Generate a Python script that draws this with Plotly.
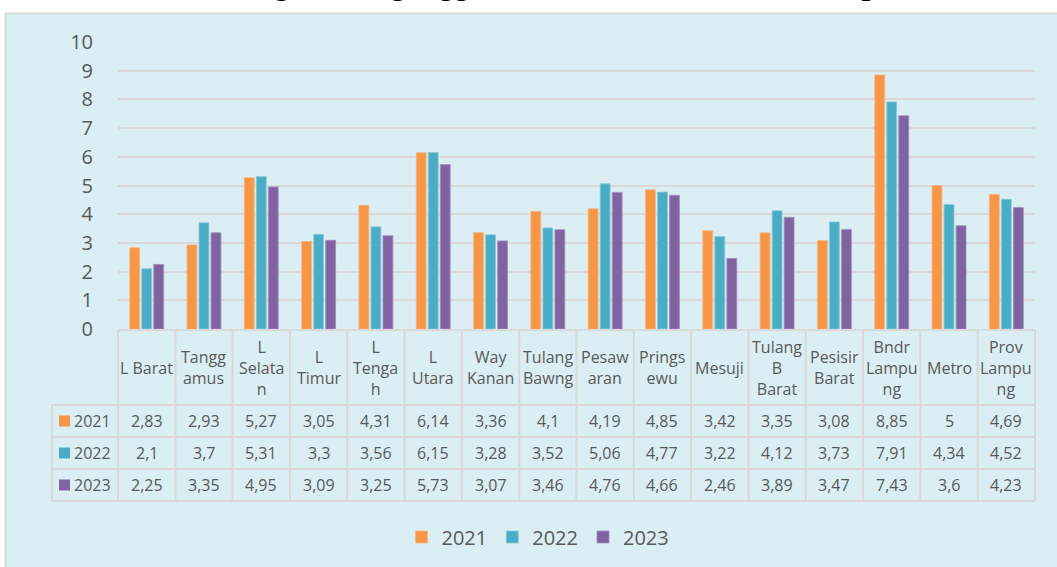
import plotly.graph_objects as go

# ---------------- data ----------------
categories = ["L Barat", "Tangg<br>amus", "L<br>Selata<br>n", "L<br>Timur", "L<br>Tenga<br>h",
              "L<br>Utara", "Way<br>Kanan", "Tulang<br>Bawng", "Pesaw<br>aran", "Prings<br>ewu",
              "Mesuji", "Tulang<br>B<br>Barat", "Pesisir<br>Barat", "Bndr<br>Lampu<br>ng",
              "Metro", "Prov<br>Lampu<br>ng"]
series_names = ["2021", "2022", "2023"]
v2021 = [2.83, 2.93, 5.27, 3.05, 4.31, 6.14, 3.36, 4.1, 4.19, 4.85, 3.42, 3.35, 3.08, 8.85, 5, 4.69]
v2022 = [2.1, 3.7, 5.31, 3.3, 3.56, 6.15, 3.28, 3.52, 5.06, 4.77, 3.22, 4.12, 3.73, 7.91, 4.34, 4.52]
v2023 = [2.25, 3.35, 4.95, 3.09, 3.25, 5.73, 3.07, 3.46, 4.76, 4.66, 2.46, 3.89, 3.47, 7.43, 3.6, 4.23]
series_values = [v2021, v2022, v2023]
colors = ["#F79646", "#4BACC6", "#8064A2"]
edge_colors = ["#FAB27F", "#86CADB", "#A38DBF"]
y_ticks = [0, 1, 2, 3, 4, 5, 6, 7, 8, 9, 10]
title_text = "Gambar 4.1 Tingkat Pengangguran Terbuka Menurut Kabupaten/Kota"

# ---------------- geometry helpers ----------------
W, H = 1057, 567
ML, MR, MT, MB = 118, 22, 42, 238
PW, PH = W - ML - MR, H - MT - MB
TXT = "#595959"
GRID = "#D9D9D9"
FONT = "Open Sans"


def fx(px):
    return (px - ML) / PW


def fy(py):
    return (H - MB - py) / PH


n = len(categories)
col_w = PW / n

fig = go.Figure()
for name, vals, c, ec in zip(series_names, series_values, colors, edge_colors):
    fig.add_trace(go.Bar(x=list(range(n)), y=vals, name=name,
                         marker=dict(color=c, line=dict(color=ec, width=0.8))))

shapes = []
# chart panel
shapes.append(dict(type="rect", xref="paper", yref="paper", layer="below",
                   x0=fx(5.5), x1=fx(W + 10), y0=fy(13.5), y1=fy(H + 10),
                   fillcolor="#DAEEF3", line=dict(color=GRID, width=2)))

# table geometry (pixels)
hdr_top, hdr_bot = 330, 405
row_bounds = [405, 437, 469, 501]
left_x = 52


def line(x0, y0, x1, y1):
    shapes.append(dict(type="line", xref="paper", yref="paper", layer="above",
                       x0=fx(x0), x1=fx(x1), y0=fy(y0), y1=fy(y1),
                       line=dict(color=GRID, width=2)))


line(ML, hdr_top, ML + PW, hdr_top)
for yb in row_bounds:
    line(left_x, yb, ML + PW, yb)
line(left_x, row_bounds[0], left_x, row_bounds[-1])
for k in range(n + 1):
    xk = ML + k * col_w
    line(xk, hdr_top, xk, row_bounds[-1])

annotations = []
# header labels
for i, cat in enumerate(categories):
    annotations.append(dict(x=i, xref="x", y=fy((hdr_top + hdr_bot) / 2), yref="paper",
                            text=cat, showarrow=False, xanchor="center", yanchor="middle",
                            font=dict(family=FONT, size=16, color=TXT)))
# data rows
for r, (name, vals, c) in enumerate(zip(series_names, series_values, colors)):
    yc = (row_bounds[r] + row_bounds[r + 1]) / 2
    for i, v in enumerate(vals):
        annotations.append(dict(x=i, xref="x", y=fy(yc), yref="paper",
                                text=f"{v:g}".replace(".", ","), showarrow=False,
                                xanchor="center", yanchor="middle",
                                font=dict(family=FONT, size=16, color=TXT)))
    shapes.append(dict(type="rect", xref="paper", yref="paper", layer="above",
                       x0=fx(59), x1=fx(70), y0=fy(yc - 5.5), y1=fy(yc + 5.5),
                       fillcolor=c, line=dict(width=0)))
    annotations.append(dict(x=fx(72), xref="paper", y=fy(yc), yref="paper",
                            text=name, showarrow=False, xanchor="left", yanchor="middle",
                            font=dict(family=FONT, size=16, color=TXT)))

# caption at the very top, cut off by the top edge as in the source image
annotations.append(dict(x=fx(61), xref="paper", y=fy(3), yref="paper",
                        text="<b>" + title_text + "</b>", showarrow=False,
                        xanchor="left", yanchor="bottom",
                        font=dict(family="Liberation Serif", size=31, color="#000000")))

fig.update_layout(
    width=W, height=H,
    margin=dict(l=ML, r=MR, t=MT, b=MB, autoexpand=False),
    paper_bgcolor="#FFFFFF", plot_bgcolor="rgba(0,0,0,0)",
    barmode="group", bargap=0.37, bargroupgap=0.18,
    shapes=shapes, annotations=annotations,
    font=dict(family=FONT, color=TXT),
    legend=dict(orientation="h", x=fx(538), y=fy(537), xanchor="center", yanchor="middle",
                font=dict(family=FONT, size=20, color=TXT), bgcolor="rgba(0,0,0,0)"),
    xaxis=dict(range=[-0.5, n - 0.5], showticklabels=False, showgrid=False,
               zeroline=False, showline=False, ticks=""),
    yaxis=dict(range=[0, 10], tickvals=y_ticks, showgrid=True, gridcolor=GRID, gridwidth=1.5,
               zeroline=False, showline=False, ticks="outside", ticklen=20,
               tickcolor="rgba(0,0,0,0)", tickfont=dict(family=FONT, size=20, color=TXT),
               automargin=False),
)

fig.write_html("out.html", config={"displayModeBar": False},
               post_script="document.body.style.margin='0';document.body.style.overflow='hidden';")
